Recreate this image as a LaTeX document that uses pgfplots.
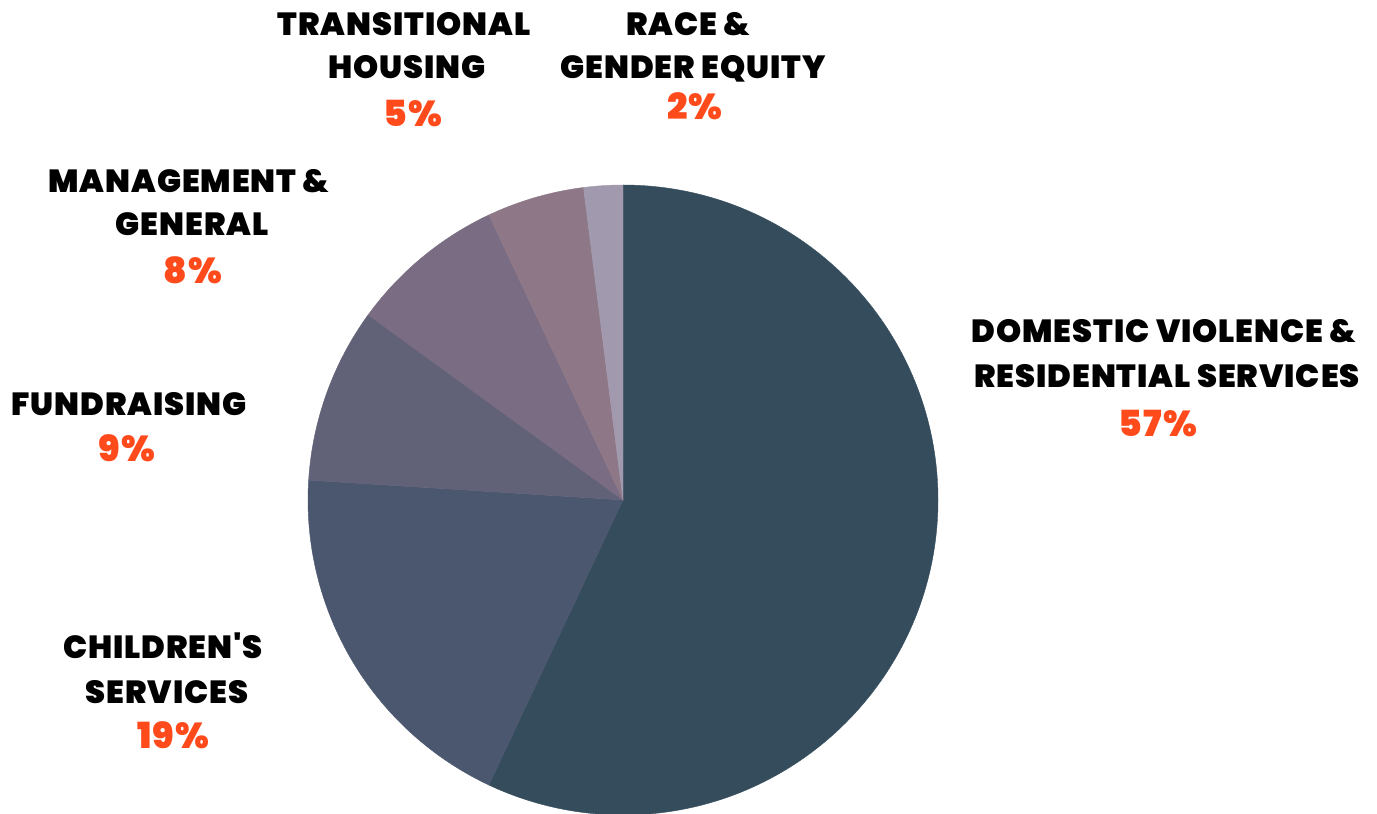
\documentclass[border=0pt]{standalone}
\usepackage{pgfplots}
\usepackage{pgfplotstable}
\pgfplotsset{compat=1.18}
\usepackage{fontspec}
\setmainfont{Poppins}[Ligatures=TeXOff, BoldFont={Poppins Black}, BoldFeatures={LetterSpace=3}]
\definecolor{c1}{HTML}{354C5C}
\definecolor{c2}{HTML}{4A576E}
\definecolor{c3}{HTML}{616178}
\definecolor{c4}{HTML}{7A6C82}
\definecolor{c5}{HTML}{8E7887}
\definecolor{c6}{HTML}{A199AE}
\definecolor{orng}{HTML}{FF4A1C}
\pgfplotstableread{
value color
57 c1
19 c2
9 c3
8 c4
5 c5
2 c6
}\piedata
\begin{document}
\begin{tikzpicture}
\begin{axis}[
  width=688.5pt, height=407pt, scale only axis,
  xmin=0, xmax=1377, ymin=0, ymax=814,
  hide axis, clip=false,
]
\pgfplotstablegetrowsof{\piedata}
\pgfmathtruncatemacro\N{\pgfplotsretval-1}
\def\cum{0}
\pgfplotsforeachungrouped \i in {0,...,\N}{%
  \pgfplotstablegetelem{\i}{value}\of\piedata \let\v\pgfplotsretval
  \pgfplotstablegetelem{\i}{color}\of\piedata \let\c\pgfplotsretval
  \pgfmathsetmacro\a{90-3.6*\cum}%
  \pgfmathsetmacro\b{90-3.6*(\cum+\v)}%
  \edef\temp{\noexpand\fill[\c, draw=\c, line width=0.2pt] (axis cs:623,314) -- ++(\a:157.5pt) arc[start angle=\a, end angle=\b, radius=157.5pt] -- cycle;}%
  \temp
  \pgfmathsetmacro\cum{\cum+\v}%
}
\tikzset{lbl/.style={anchor=base, inner sep=0pt, font=\fontsize{16}{18}\selectfont\bfseries},
         pct/.style={anchor=base, inner sep=0pt, font=\fontsize{18}{20}\selectfont\bfseries, text=orng}}
% Transitional housing
\node[lbl] at (axis cs:404,778) {TRANSITIONAL};
\node[lbl] at (axis cs:407,735) {HOUSING};
\node[pct] at (axis cs:413,687) {5\%};
% Race & gender equity
\node[lbl] at (axis cs:688,778) {RACE \&};
\node[lbl] at (axis cs:693,735) {GENDER EQUITY};
\node[pct] at (axis cs:695,694) {2\%};
% Management & general
\node[lbl] at (axis cs:189,621) {MANAGEMENT \&};
\node[lbl] at (axis cs:192,578) {GENERAL};
\node[pct] at (axis cs:193,530) {8\%};
% Fundraising
\node[lbl] at (axis cs:129,398) {FUNDRAISING};
\node[pct] at (axis cs:127,352) {9\%};
% Children's services
\node[lbl] at (axis cs:163,155) {CHILDREN'S};
\node[lbl] at (axis cs:167,111) {SERVICES};
\node[pct] at (axis cs:173,66) {19\%};
% Domestic violence
\node[lbl] at (axis cs:1164,471) {DOMESTIC VIOLENCE \&};
\node[lbl] at (axis cs:1167,426) {RESIDENTIAL SERVICES};
\node[pct] at (axis cs:1158,377) {57\%};
\end{axis}
\pgfresetboundingbox
\path[use as bounding box] (current axis.south west) rectangle (current axis.north east);
\end{tikzpicture}
\end{document}
